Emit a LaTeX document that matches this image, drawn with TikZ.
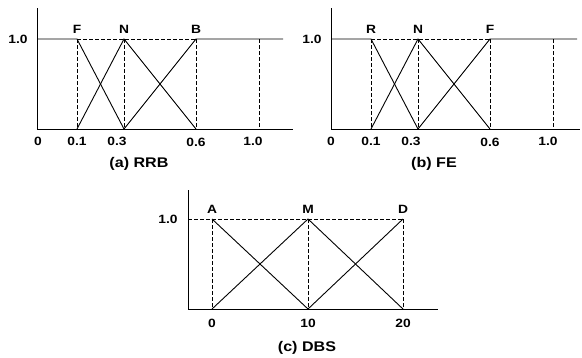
\documentclass[tikz,border=0pt]{standalone}
\usepackage{fontspec}
\setmainfont{Liberation Sans}[FakeStretch=1.15]
\begin{document}
\begin{tikzpicture}[x=1bp,y=-1bp,
  solidln/.style={line width=0.9bp,black},
  dashln/.style={line width=0.9bp,black,dash pattern=on 3.5bp off 2.5bp},
  lbl/.style={inner sep=0pt,font=\fontsize{12bp}{14bp}\selectfont\bfseries},
  captxt/.style={inner sep=0pt,font=\fontsize{14bp}{16bp}\selectfont\bfseries}]
\useasboundingbox (0,0) rectangle (582,357);
% ---------------- panel (a)
\coordinate (aO) at (37,129); \coordinate (aYt) at (37,8); \coordinate (aXe) at (293,129);
\coordinate (aT0) at (37,39); \coordinate (aTF) at (77,39); \coordinate (aTN) at (124,39);
\coordinate (aTB) at (196,39); \coordinate (aTe) at (283,39); \coordinate (aT10) at (259,39);
\coordinate (aB1) at (77,129); \coordinate (aB3) at (124,129); \coordinate (aB6) at (196,129); \coordinate (aB10) at (259,129);
\draw[dashln] (aTF) -- (aTB);
\draw[dashln] (aTF) -- (aB1);
\draw[dashln] (aTN) -- (aB3);
\draw[dashln] (aTB) -- (aB6);
\draw[dashln] (aT10) -- (aB10);
\draw[solidln] (aYt) -- (aO) -- (aXe);
\draw[solidln] (aT0) -- (aTF) -- (aB3);
\draw[solidln] (aB1) -- (aTN) -- (aB6);
\draw[solidln] (aB3) -- (aTB) -- (aTe);
\node[lbl] (ay1) at (18,39) {1.0};
\node[lbl] (aF) at (77,29) {F};
\node[lbl] (aN) at (124,29) {N};
\node[lbl] (aB) at (196,29) {B};
\node[lbl] (ax0) at (38,141) {0};
\node[lbl] (ax1) at (77,141) {0.1};
\node[lbl] (ax3) at (117,141) {0.3};
\node[lbl] (ax6) at (196,142.5) {0.6};
\node[lbl] (ax10) at (253,141) {1.0};
\node[captxt] (acap) at (139,164) {(a) RRB};
% ---------------- panel (b)
\coordinate (bO) at (331,129); \coordinate (bYt) at (331,8); \coordinate (bXe) at (580,129);
\coordinate (bT0) at (331,39); \coordinate (bTR) at (371,39); \coordinate (bTN) at (418,39);
\coordinate (bTF) at (490,39); \coordinate (bTe) at (577,39); \coordinate (bT10) at (553,39);
\coordinate (bB1) at (371,129); \coordinate (bB3) at (418,129); \coordinate (bB6) at (490,129); \coordinate (bB10) at (553,129);
\draw[dashln] (bTR) -- (bTF);
\draw[dashln] (bTR) -- (bB1);
\draw[dashln] (bTN) -- (bB3);
\draw[dashln] (bTF) -- (bB6);
\draw[dashln] (bT10) -- (bB10);
\draw[solidln] (bYt) -- (bO) -- (bXe);
\draw[solidln] (bT0) -- (bTR) -- (bB3);
\draw[solidln] (bB1) -- (bTN) -- (bB6);
\draw[solidln] (bB3) -- (bTF) -- (bTe);
\node[lbl] (by1) at (312,39) {1.0};
\node[lbl] (bR) at (371,29) {R};
\node[lbl] (bN) at (418,29) {N};
\node[lbl] (bF) at (490,29) {F};
\node[lbl] (bx0) at (331,141) {0};
\node[lbl] (bx1) at (371,141) {0.1};
\node[lbl] (bx3) at (411,141) {0.3};
\node[lbl] (bx6) at (490,142.5) {0.6};
\node[lbl] (bx10) at (548,141) {1.0};
\node[captxt] (bcap) at (434,164) {(b) FE};
% ---------------- panel (c)
\coordinate (cO) at (188,309); \coordinate (cYt) at (188,190); \coordinate (cXe) at (438,309);
\coordinate (cT0) at (188,219); \coordinate (cTA) at (212,219); \coordinate (cTM) at (308,219); \coordinate (cTD) at (403,219);
\coordinate (cBA) at (212,309); \coordinate (cBM) at (308,309); \coordinate (cBD) at (403,309);
\draw[dashln] (cT0) -- (cTD);
\draw[dashln] (cTA) -- (cBA);
\draw[dashln] (cTM) -- (cBM);
\draw[dashln] (cTD) -- (cBD);
\draw[solidln] (cYt) -- (cO) -- (cXe);
\draw[solidln] (cTA) -- (cBM);
\draw[solidln] (cBA) -- (cTM) -- (cBD);
\draw[solidln] (cBM) -- (cTD);
\node[lbl] (cy1) at (168,219) {1.0};
\node[lbl] (cA) at (212,209) {A};
\node[lbl] (cM) at (308,209) {M};
\node[lbl] (cD) at (403,209) {D};
\node[lbl] (cx0) at (212,323) {0};
\node[lbl] (cx10) at (308,323) {10};
\node[lbl] (cx20) at (403,323) {20};
\node[captxt] (ccap) at (307,348) {(c) DBS};
\end{tikzpicture}
\end{document}
